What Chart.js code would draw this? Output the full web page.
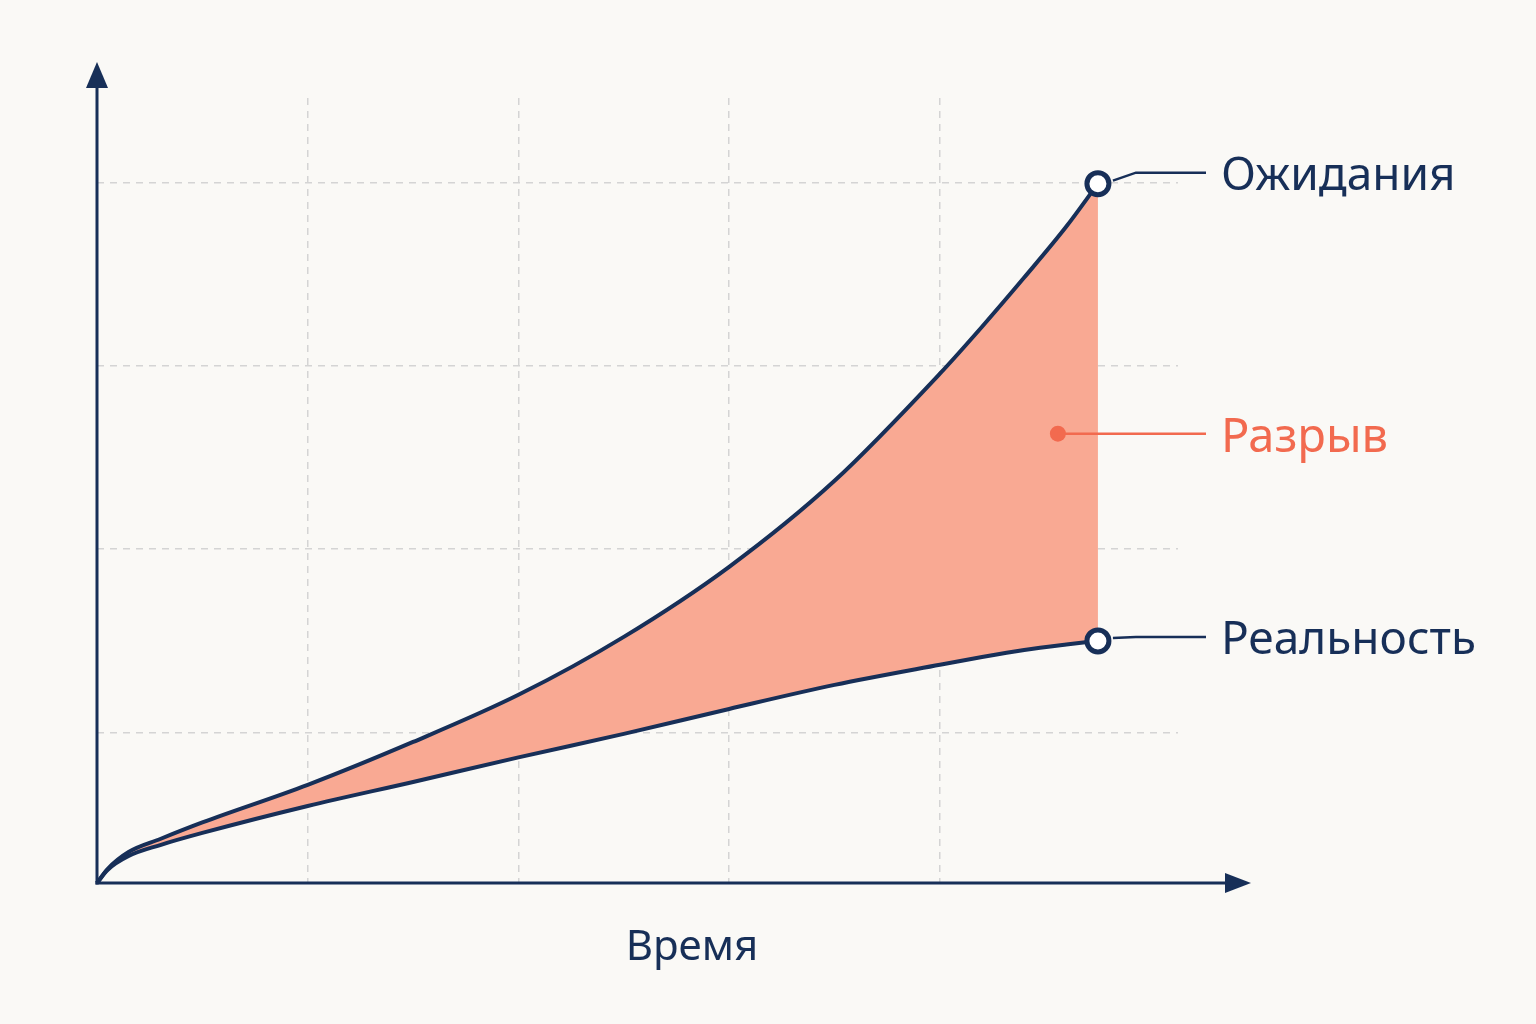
<!DOCTYPE html>
<html>
<head>
  <meta charset="utf-8">
  <title>Ожидания и реальность</title>
  <script src="https://cdn.jsdelivr.net/npm/chart.js"></script>
  <style>
    html, body { margin: 0; padding: 0; background: #faf9f6; }
    #wrap { width: 1536px; height: 1024px; position: relative; }
  </style>
</head>
<body>
  <div id="wrap"><canvas id="gapChart"></canvas></div>

  <script>
    // данные
    var timeX     = [0, 0.05, 0.15, 0.3, 0.5, 1.0, 1.5, 2.0, 2.5, 3.0, 3.5, 4.0, 4.2, 4.4, 4.6, 4.75];
    var expected  = [0, 0.076, 0.169, 0.24, 0.33, 0.535, 0.769, 1.026, 1.342, 1.724, 2.193, 2.777, 3.033, 3.301, 3.579, 3.813];
    var reality   = [0, 0.071, 0.147, 0.207, 0.273, 0.42, 0.551, 0.685, 0.813, 0.949, 1.08, 1.19, 1.232, 1.27, 1.30, 1.32];
    var xGrid = [1, 2, 3, 4];
    var yGrid = [0.82, 1.82, 2.82, 3.82];
    var seriesNames = ["Ожидания", "Реальность"];
    var gapName = "Разрыв";
    var axisName = "Время";
    var gapLabelAt = { x: 4.56, y: 2.45 };

    var navy = "#172f58";
    var coral = "#f26a4f";
    var font = "'Noto Sans', 'DejaVu Sans', sans-serif";

    function toPoints(ys) {
      var out = [];
      for (var i = 0; i < timeX.length; i++) out.push({ x: timeX[i], y: ys[i] });
      return out;
    }
    function lastOnly(v) {
      return function(ctx) { return ctx.dataIndex === timeX.length - 1 ? v : 0; };
    }

    // оси со стрелками и подписи
    var decorPlugin = {
      id: "decor",
      beforeDraw: function(chart) {
        var c = chart.ctx;
        c.save();
        c.fillStyle = "#faf9f6";
        c.fillRect(0, 0, chart.width, chart.height);
        c.restore();
      },
      afterDatasetsDraw: function(chart) {
        var c = chart.ctx;
        var xs = chart.scales.x, ys = chart.scales.y;
        var x0 = xs.getPixelForValue(0), y0 = ys.getPixelForValue(0);
        c.save();
        c.strokeStyle = navy;
        c.fillStyle = navy;
        c.lineWidth = 3;
        // ось Y
        c.beginPath();
        c.moveTo(x0, y0 + 1.5);
        c.lineTo(x0, 84);
        c.stroke();
        c.beginPath();
        c.moveTo(x0, 62);
        c.lineTo(x0 - 11, 88);
        c.lineTo(x0 + 11, 88);
        c.closePath();
        c.fill();
        // ось X
        c.beginPath();
        c.moveTo(x0 - 1.5, y0);
        c.lineTo(1230, y0);
        c.stroke();
        c.beginPath();
        c.moveTo(1251, y0);
        c.lineTo(1225, y0 - 10);
        c.lineTo(1225, y0 + 10);
        c.closePath();
        c.fill();

        c.textBaseline = "alphabetic";
        c.textAlign = "left";
        c.font = "46px " + font;

        // выноски серий
        var last = timeX.length - 1;
        var sets = [expected, reality];
        for (var i = 0; i < sets.length; i++) {
          var px = xs.getPixelForValue(timeX[last]);
          var py = ys.getPixelForValue(sets[i][last]);
          var ly = i === 0 ? py - 11 : py - 4;
          c.strokeStyle = navy;
          c.lineWidth = 2.5;
          c.beginPath();
          c.moveTo(px + 15, py - 3);
          c.lineTo(px + 38, ly);
          c.lineTo(1206, ly);
          c.stroke();
          c.fillStyle = navy;
          c.fillText(seriesNames[i], 1221, ly + 17);
        }

        // разрыв
        var gx = xs.getPixelForValue(gapLabelAt.x), gy = ys.getPixelForValue(gapLabelAt.y);
        c.fillStyle = coral;
        c.strokeStyle = coral;
        c.lineWidth = 2.5;
        c.beginPath();
        c.arc(gx, gy, 8, 0, Math.PI * 2);
        c.fill();
        c.beginPath();
        c.moveTo(gx, gy);
        c.lineTo(1206, gy);
        c.stroke();
        c.font = "47px " + font;
        c.fillText(gapName, 1221, gy + 18);

        // подпись оси
        c.fillStyle = navy;
        c.textAlign = "center";
        c.font = "42px " + font;
        c.fillText(axisName, 692, 960);
        c.restore();
      }
    };

    var gapChart = new Chart("gapChart", {
      type: "line",
      data: {
        datasets: [{
          label: seriesNames[0],
          data: toPoints(expected),
          order: 1,
          borderColor: navy,
          borderWidth: 4,
          backgroundColor: "#f9a993",
          fill: "+1",
          cubicInterpolationMode: "monotone",
          pointRadius: lastOnly(11),
          pointHoverRadius: lastOnly(11),
          pointBackgroundColor: "#ffffff",
          pointBorderColor: navy,
          pointBorderWidth: 5
        }, {
          label: seriesNames[1],
          data: toPoints(reality),
          order: 0,
          borderColor: navy,
          borderWidth: 4,
          fill: false,
          cubicInterpolationMode: "monotone",
          pointRadius: lastOnly(11),
          pointHoverRadius: lastOnly(11),
          pointBackgroundColor: "#ffffff",
          pointBorderColor: navy,
          pointBorderWidth: 5
        }]
      },
      options: {
        responsive: true,
        maintainAspectRatio: false,
        animation: false,
        clip: false,
        events: [],
        layout: {
          padding: { left: 97, right: 358, top: 98, bottom: 141 }
        },
        plugins: {
          legend: { display: false },
          tooltip: { enabled: false }
        },
        scales: {
          x: {
            type: "linear",
            min: 0,
            max: 5.13,
            afterBuildTicks: function(axis) {
              axis.ticks = xGrid.map(function(v) { return { value: v }; });
            },
            ticks: { display: false },
            border: { display: false, dash: [7, 6] },
            grid: { color: "#d4d4d4", lineWidth: 1.5, drawTicks: false }
          },
          y: {
            type: "linear",
            min: 0,
            max: 4.28,
            afterBuildTicks: function(axis) {
              axis.ticks = yGrid.map(function(v) { return { value: v }; });
            },
            ticks: { display: false },
            border: { display: false, dash: [7, 6] },
            grid: { color: "#d4d4d4", lineWidth: 1.5, drawTicks: false }
          }
        }
      },
      plugins: [decorPlugin]
    });
  </script>
</body>
</html>
